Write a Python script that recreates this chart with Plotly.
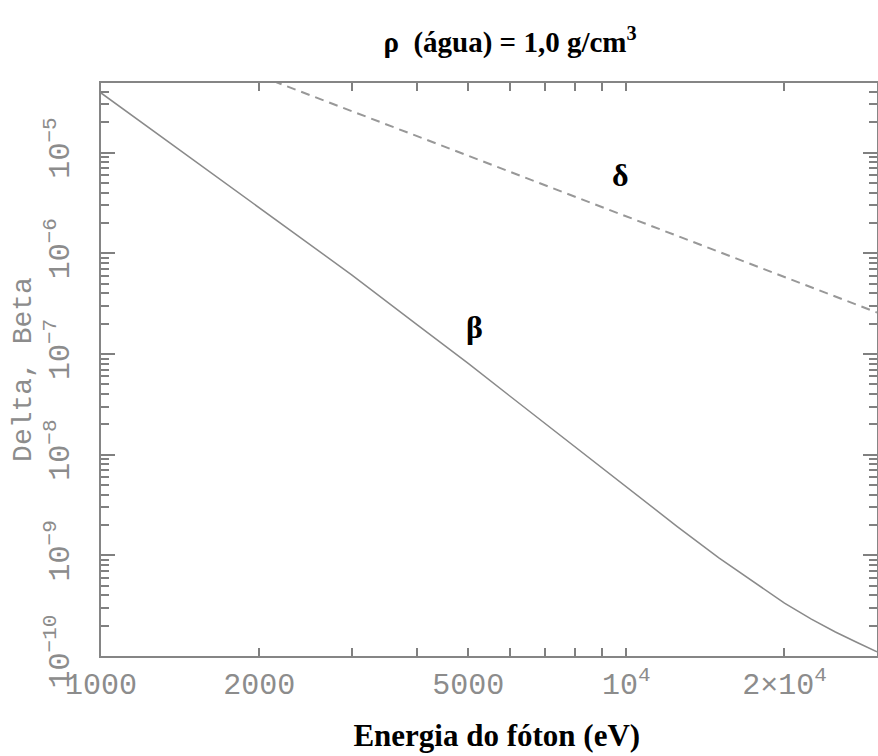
import math
import plotly.graph_objects as go

# Energy (eV) and beta values
beta_energy = [1000, 1500, 2000, 3000, 4000, 5000, 6000, 7000, 8000, 10000,
               12500, 15000, 17500, 20000, 22500, 25000, 27500, 30000]
beta_values = [3.9e-5, 8.4e-6, 2.85e-6, 6.1e-7, 1.94e-7, 8.05e-8, 3.82e-8, 2.04e-8,
               1.18e-8, 4.83e-9, 1.93e-9, 9.44e-10, 5.37e-10, 3.35e-10, 2.32e-10,
               1.73e-10, 1.36e-10, 1.10e-10]

# Energy (eV) and delta values
delta_energy = [2000, 3000, 4000, 5000, 7000, 10000, 15000, 20000, 30000]
delta_values = [5.8e-5, 2.58e-5, 1.45e-5, 9.3e-6, 4.74e-6, 2.32e-6, 1.03e-6, 5.8e-7, 2.58e-7]

x_tickvals = [1000, 2000, 5000, 10000, 20000]
x_ticktext = ["1000", "2000", "5000", "10<sup>4</sup>", "2×10<sup>4</sup>"]
y_tickvals = [1e-10, 1e-9, 1e-8, 1e-7, 1e-6, 1e-5]
y_ticktext = ["10<sup>−10</sup>", "10<sup>−9</sup>", "10<sup>−8</sup>",
              "10<sup>−7</sup>", "10<sup>−6</sup>", "10<sup>−5</sup>"]

x_range = [1000, 30000]
y_range = [1e-10, 4.9e-5]

AX = "#858585"
TK = "#808080"
TICKFONT = dict(family="Liberation Mono", size=30, color="#8c8c8c")

W, H = 878, 756

fig = go.Figure()
fig.add_trace(go.Scatter(x=beta_energy, y=beta_values, mode="lines",
                         line=dict(color="#8a8a8a", width=1.5),
                         name="β", hoverinfo="skip"))
fig.add_trace(go.Scatter(x=delta_energy, y=delta_values, mode="lines",
                         line=dict(color="#989898", width=2, dash="9px,6px"),
                         name="δ", hoverinfo="skip"))

fig.update_layout(
    width=W, height=H,
    margin=dict(l=101, r=1, t=83, b=100, autoexpand=False),
    paper_bgcolor="white", plot_bgcolor="white",
    showlegend=False, hovermode=False,
    title=dict(text="ρ  (água) = 1,0 g/cm<sup>3</sup>",
               x=510 / W, xanchor="center", xref="container",
               y=1 - 42 / H, yanchor="middle", yref="container",
               font=dict(family="Liberation Serif", size=29, color="black", weight="bold")),
    xaxis=dict(
        type="log", range=[math.log10(x_range[0]), math.log10(x_range[1])],
        tickvals=x_tickvals, ticktext=x_ticktext, automargin=False,
        ticks="inside", ticklen=8, tickwidth=2, tickcolor=TK,
        showline=True, linecolor=AX, linewidth=2, mirror="allticks",
        showgrid=False, zeroline=False,
        minor=dict(ticks="inside", ticklen=8, tickwidth=2, tickcolor=TK,
                   dtick="D1", showgrid=False),
        tickfont=TICKFONT, ticklabelstandoff=0,
        title=dict(text="&nbsp;&nbsp;Energia do fóton (eV)", standoff=22,
                   font=dict(family="Liberation Serif", size=31, color="black", weight="bold")),
    ),
    xaxis2=dict(
        type="log", range=[math.log10(x_range[0]), math.log10(x_range[1])],
        overlaying="x", side="bottom", anchor="y", automargin=False,
        tickvals=[1000, 10000], ticks="inside", ticklen=14, tickwidth=2, tickcolor=TK,
        showticklabels=False, showgrid=False, zeroline=False,
        showline=False, mirror="allticks",
    ),
    yaxis=dict(
        type="log", range=[math.log10(y_range[0]), math.log10(y_range[1])],
        tickvals=y_tickvals, ticktext=y_ticktext, tickangle=-90, automargin=False,
        ticks="inside", ticklen=14, tickwidth=2, tickcolor=TK,
        showline=True, linecolor=AX, linewidth=2, mirror="allticks",
        showgrid=False, zeroline=False,
        minor=dict(ticks="inside", ticklen=8, tickwidth=2, tickcolor=TK,
                   dtick="D1", showgrid=False),
        tickfont=TICKFONT, ticklabelstandoff=18,
        title=dict(text="Delta, Beta", standoff=0,
                   font=dict(family="Liberation Mono", size=28, color="#8c8c8c")),
    ),
    annotations=[
        dict(x=math.log10(9760), y=math.log10(6.0e-6), xref="x", yref="y",
             text="δ", showarrow=False,
             font=dict(family="Liberation Serif", size=32, color="black", weight="bold")),
        dict(x=math.log10(5150), y=math.log10(1.85e-7), xref="x", yref="y",
             text="β", showarrow=False,
             font=dict(family="Liberation Serif", size=32, color="black", weight="bold")),
    ],
)

fig.write_html("out.html", config={"displayModeBar": False},
               post_script="document.body.style.margin='0';document.body.style.padding='0';")
